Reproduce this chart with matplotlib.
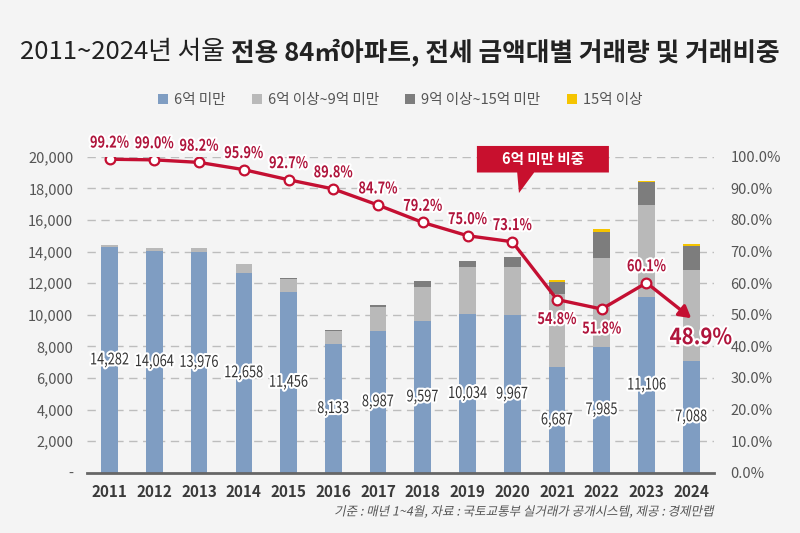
import matplotlib
matplotlib.use("Agg")
import matplotlib.pyplot as plt
import matplotlib.patheffects as pe
from matplotlib.patches import Polygon, Patch
from matplotlib.transforms import Affine2D
import numpy as np

plt.rcParams["font.family"] = ["Noto Sans CJK KR", "DejaVu Sans"]

years = ["2011", "2012", "2013", "2014", "2015", "2016", "2017",
         "2018", "2019", "2020", "2021", "2022", "2023", "2024"]
under6 = [14282, 14064, 13976, 12658, 11456, 8133, 8987, 9597, 10034, 9967, 6687, 7985, 11106, 7088]
from6to9 = [115, 142, 256, 541, 800, 824, 1473, 2160, 3015, 3030, 4600, 5590, 5830, 5737]
from9to15 = [0, 0, 0, 0, 100, 100, 150, 360, 330, 640, 800, 1690, 1440, 1520]
over15 = [0, 0, 0, 0, 0, 0, 0, 0, 0, 0, 116, 150, 103, 150]
share = [99.2, 99.0, 98.2, 95.9, 92.7, 89.8, 84.7, 79.2, 75.0, 73.1, 54.8, 51.8, 60.1, 48.9]
legend_labels = ["6억 미만", "6억 이상~9억 미만", "9억 이상~15억 미만", "15억 이상"]

bg = "#f4f4f4"
colors = ["#7f9dc2", "#b9b9b9", "#7d7d7d", "#f5c400"]
red = "#c40f32"
label_red = "#b0153c"


class Squeeze(pe.AbstractPathEffect):
    # narrows (and optionally slants) the text around its own centre
    def __init__(self, inner, sx=0.82, slant=0):
        super().__init__()
        self.inner = inner
        self.sx = sx
        self.slant = slant

    def draw_path(self, renderer, gc, tpath, affine, rgbFace=None):
        xs = tpath.vertices[:, 0]
        cx = (xs.min() + xs.max()) / 2 if len(xs) else 0
        t = (Affine2D().translate(-cx, 0).skew_deg(self.slant, 0)
             .scale(self.sx, 1).translate(cx, 0) + affine)
        self.inner.draw_path(renderer, gc, tpath, t, rgbFace)


def narrow(sx, halo=True):
    fx = [Squeeze(pe.Normal(), sx)]
    if halo:
        fx.insert(0, Squeeze(pe.Stroke(linewidth=3, foreground="white"), sx))
    return fx


fig = plt.figure(figsize=(8, 5.33), dpi=100, facecolor=bg)
ax = fig.add_axes([0.109, 0.113, 0.783, 0.593], facecolor=bg)
x = np.arange(len(years))
w = 0.37

bottom = np.zeros(len(years))
for vals, c in zip([under6, from6to9, from9to15, over15], colors):
    ax.bar(x, vals, w, bottom=bottom, color=c, zorder=3)
    bottom += np.array(vals)

ax.set_xlim(-0.5, 13.5)
ax.set_ylim(0, 20000)
ax.set_yticks(range(0, 20001, 2000))
ax.set_yticklabels(["-"] + [f"{v:,}" for v in range(2000, 20001, 2000)])
ax.set_xticks(x)
ax.set_xticklabels(years, fontsize=11, color="#3a3a3a", fontweight="bold")
ax.tick_params(axis="both", length=0)
ax.tick_params(axis="y", labelsize=10.5, labelcolor="#555555", pad=10)
ax.tick_params(axis="x", pad=8)
for gy in range(2000, 20001, 2000):
    ax.axhline(gy, color="#bdbdbd", lw=1, ls=(0, (6, 4)), zorder=1)
for s in ["top", "left", "right"]:
    ax.spines[s].set_visible(False)
ax.spines["bottom"].set_color("#666666")
ax.spines["bottom"].set_linewidth(2)
ax.spines["bottom"].set_zorder(4)

for xi, v in zip(x, under6):
    ax.text(xi, v / 2, f"{v:,}", ha="center", va="center", fontsize=11.5,
            color="#333333", zorder=6, path_effects=narrow(0.8))

ax2 = ax.twinx()
ax2.set_ylim(0, 100)
ax2.set_yticks(range(0, 101, 10))
ax2.set_yticklabels([f"{v:.1f}%" for v in range(0, 101, 10)])
ax2.tick_params(axis="y", length=0, labelsize=10.5, labelcolor="#555555", pad=12)
for s in ["top", "left", "right", "bottom"]:
    ax2.spines[s].set_visible(False)

ax2.plot(x[:-1], share[:-1], color=red, lw=2.4, marker="o", markersize=7,
         markerfacecolor="white", markeredgecolor=red, markeredgewidth=1.6, zorder=5)
ax2.annotate("", xy=(x[-1], share[-1]), xytext=(x[-2], share[-2]),
             arrowprops=dict(arrowstyle="-|>,head_length=0.7,head_width=0.4",
                             color=red, lw=2.4, shrinkA=4, shrinkB=0))

for i, (xi, p) in enumerate(zip(x, share)):
    if i == len(x) - 1:
        ax2.annotate(f"{p:.1f}%", (xi, p), xytext=(7, -14), textcoords="offset points",
                     ha="center", va="center", fontsize=16, fontweight="bold",
                     color=label_red, path_effects=narrow(0.92))
    elif i in (10, 11):
        ax2.annotate(f"{p:.1f}%", (xi, p), xytext=(0, -14), textcoords="offset points",
                     ha="center", va="center", fontsize=11.5, fontweight="bold",
                     color=label_red, path_effects=narrow(0.8))
    else:
        ax2.annotate(f"{p:.1f}%", (xi, p), xytext=(0, 12), textcoords="offset points",
                     ha="center", va="center", fontsize=11.5, fontweight="bold",
                     color=label_red, path_effects=narrow(0.8))

# callout box
box = Polygon([(8.21, 103.4), (11.16, 103.4), (11.16, 95.0), (9.49, 95.0),
               (9.15, 88.5), (9.11, 95.0), (8.21, 95.0)],
              closed=True, facecolor="#c8102e", edgecolor="none",
              transform=ax2.transData, clip_on=False, zorder=7)
ax2.add_patch(box)
ax2.text(9.69, 99.2, "6억 미만 비중", ha="center", va="center", fontsize=10.5,
         fontweight="bold", color="white", zorder=8, clip_on=False)

# title with two weights
ty = 1 - 52 / 533
t1 = fig.text(0, ty, "2011~2024년 서울 ", fontsize=18.5, color="#222222", va="center")
t2 = fig.text(0, ty, "전용 84㎡아파트, 전세 금액대별 거래량 및 거래비중", fontsize=18.5,
              fontweight="bold", color="#222222", va="center")
r = fig.canvas.get_renderer()
w1 = t1.get_window_extent(r).width / fig.bbox.width
w2 = t2.get_window_extent(r).width / fig.bbox.width
x0 = 0.5 - (w1 + w2) / 2
t1.set_x(x0)
t2.set_x(x0 + w1)

handles = [Patch(facecolor=c, edgecolor="none") for c in colors]
fig.legend(handles, legend_labels, loc="center", bbox_to_anchor=(0.5, 1 - 100 / 533),
           ncol=4, frameon=False, fontsize=10.5, handlelength=0.7, handleheight=0.7,
           handletextpad=0.4, columnspacing=1.8, labelcolor="#555555")

fig.text(713 / 800, 1 - 512 / 533, "기준 : 매년 1~4월, 자료 : 국토교통부 실거래가 공개시스템, 제공 : 경제만랩",
         ha="right", va="center", fontsize=9, color="#555555",
         path_effects=[Squeeze(pe.Normal(), 1.0, slant=12)])

fig.savefig("out.png", dpi=100, facecolor=bg)
